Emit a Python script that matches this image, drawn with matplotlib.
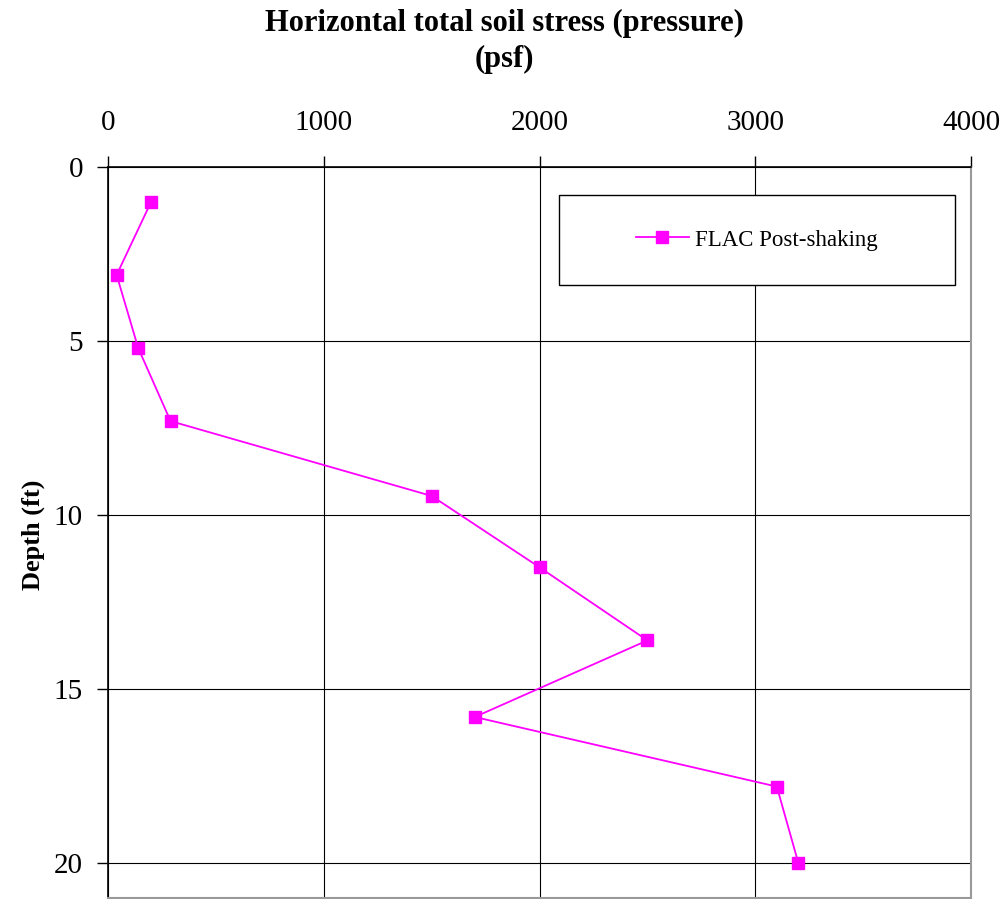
import matplotlib
matplotlib.use('Agg')
from matplotlib import pyplot as plt
from matplotlib.patches import Rectangle

#
# data
# ---------------------------------
#
stress = [200, 40, 140, 290, 1500, 2000, 2500, 1700, 3100, 3200]
depth = [1.0, 3.1, 5.2, 7.3, 9.45, 11.5, 13.6, 15.8, 17.8, 20.0]
xticks = [0, 1000, 2000, 3000, 4000]
yticks = [0, 5, 10, 15, 20]

plt.rcParams['font.family'] = ['Liberation Serif', 'DejaVu Serif']

fig = plt.figure(figsize=(10.05, 8.99), dpi=100)
ax = fig.add_axes([108/1005, 1 - 898/899, (971-108)/1005, (898-167)/899])

ax.plot(stress, depth, color='#FF00FF', lw=1.3, marker='s', ms=8.5,
        markeredgecolor='#FF00FF', label='FLAC Post-shaking', zorder=3)

ax.set_xlim(0, 4000)
ax.set_ylim(21, 0)
ax.set_xticks(xticks)
ax.set_yticks(yticks)
ax.xaxis.tick_top()
ax.tick_params(axis='both', direction='out', length=8, width=1, labelsize=21,
               color='black')
ax.tick_params(axis='x', pad=14)
ax.tick_params(axis='y', pad=10)
ax.grid(True, color='black', lw=0.8)
ax.set_axisbelow(True)

for s in ['top', 'left']:
    ax.spines[s].set_color('black')
    ax.spines[s].set_linewidth(1.2)
for s in ['bottom', 'right']:
    ax.spines[s].set_color('#999999')
    ax.spines[s].set_linewidth(1.5)

#
# title and axis label
# --------------------
#
fig.text(0.502, 0.99, 'Horizontal total soil stress (pressure)\n(psf)',
         ha='center', va='top', fontsize=22, fontweight='bold',
         linespacing=1.3)
fig.text(0.033, 0.405, 'Depth (ft)', rotation=90, ha='center', va='center',
         fontsize=19, fontweight='bold')

#
# legend box
# ----------
#
x0 = (559-108)/863
x1 = (955-108)/863
y0 = 1 - (285-167)/731
y1 = 1 - (195-167)/731
ax.add_patch(Rectangle((x0, y0), x1 - x0, y1 - y0, transform=ax.transAxes,
                       facecolor='white', edgecolor='black', lw=1, zorder=4))
leg = ax.legend(loc='center', bbox_to_anchor=((x0+x1)/2, (y0+y1)/2),
                frameon=False, fontsize=16.5, handlelength=2.3,
                handletextpad=0.3)
leg.set_zorder(5)

fig.savefig('out.png', dpi=100)
